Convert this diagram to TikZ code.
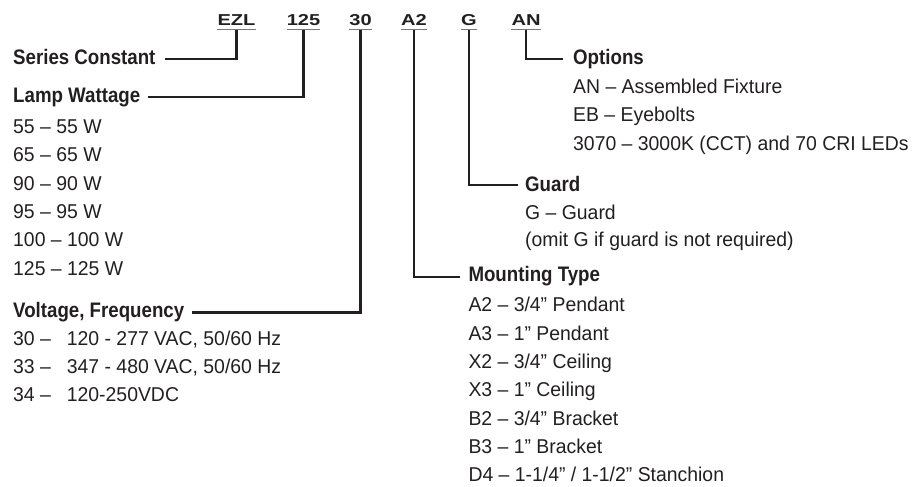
\documentclass[tikz,border=0pt]{standalone}
\usepackage{fontspec}
\setmainfont{Liberation Sans}[FakeStretch=0.97]
\newfontfamily\headfont{Liberation Sans}[FakeStretch=0.89]
\newfontfamily\codefont{Liberation Sans}[FakeStretch=1.27]
\definecolor{ink}{HTML}{231F20}
\definecolor{uline}{HTML}{77787B}
\tikzset{
  codetxt/.style={font=\codefont\bfseries\fontsize{15.8}{18}\selectfont, inner sep=0pt, anchor=base, text=ink},
  headtxt/.style={font=\headfont\bfseries\fontsize{21}{24}\selectfont, inner sep=0pt, anchor=base west, text=ink},
  itemtxt/.style={font=\fontsize{20}{24}\selectfont, inner sep=0pt, anchor=base west, text=ink},
  link/.style={draw=ink, line width=2.2pt},
  ul/.style={draw=uline, line width=1.5pt},
}
\begin{document}
\begin{tikzpicture}[x=1pt,y=-1pt]
\useasboundingbox (0,0) rectangle (914,487);
% codes
\node[codetxt] (ezl) at (236.5,25.3) {EZL};
\node[codetxt] (c125) at (303.5,25.3) {125};
\node[codetxt] (c30) at (360.5,25.3) {30};
\node[codetxt] (ca2) at (414,25.3) {A2};
\node[codetxt] (cg) at (469,25.3) {G};
\node[codetxt] (can) at (526,25.3) {AN};
\foreach \c in {ezl,c125,c30,ca2,cg,can}{
  \draw[ul] ([yshift=-4.3pt]\c.base west) -- ([yshift=-4.3pt]\c.base east);
}
% left headings
\node[headtxt] (sc) at (13,65) {Series Constant};
\node[headtxt] (lw) at (13,102.3) {Lamp Wattage};
\node[headtxt] (vf) at (13,317) {Voltage, Frequency};
% left items
\node[itemtxt] (w1) at (13,133.3) {55 – 55 W};
\node[itemtxt] (w2) at (13,161.7) {65 – 65 W};
\node[itemtxt] (w3) at (13,190) {90 – 90 W};
\node[itemtxt] (w4) at (13,218.3) {95 – 95 W};
\node[itemtxt] (w5) at (13,246.7) {100 – 100 W};
\node[itemtxt] (w6) at (13,275) {125 – 125 W};
\node[itemtxt] (v1) at (13,345) {\makebox[53.7pt][l]{30 –}120 - 277 VAC, 50/60 Hz};
\node[itemtxt] (v2) at (13,373.3) {\makebox[53.7pt][l]{33 –}347 - 480 VAC, 50/60 Hz};
\node[itemtxt] (v3) at (13,401.7) {\makebox[53.7pt][l]{34 –}120-250VDC};
% right headings
\node[headtxt] (op) at (573,65) {Options};
\node[headtxt] (gd) at (525,191.3) {Guard};
\node[headtxt] (mt) at (468.3,281.7) {Mounting Type};
% options items
\node[itemtxt] (o1) at (573,93.3) {AN – Assembled Fixture};
\node[itemtxt] (o2) at (573,121.7) {EB – Eyebolts};
\node[itemtxt] (o3) at (573,150) {3070 – 3000K (CCT) and 70 CRI LEDs};
% guard items
\node[itemtxt] (g1) at (525,219.3) {G – Guard};
\node[itemtxt] (g2) at (525,246) {(omit G if guard is not required)};
% mounting items
\node[itemtxt] (m1) at (468.3,311.7) {A2 – 3/4” Pendant};
\node[itemtxt] (m2) at (468.3,340) {A3 – 1” Pendant};
\node[itemtxt] (m3) at (468.3,368.3) {X2 – 3/4” Ceiling};
\node[itemtxt] (m4) at (468.3,396.7) {X3 – 1” Ceiling};
\node[itemtxt] (m5) at (468.3,425) {B2 – 3/4” Bracket};
\node[itemtxt] (m6) at (468.3,453.3) {B3 – 1” Bracket};
\node[itemtxt] (m7) at (468.3,481.7) {D4 – 1-1/4” / 1-1/2” Stanchion};
% connectors
\draw[link] ([yshift=-4.3pt]ezl.base) |- ([xshift=9pt,yshift=5.7pt]sc.base east);
\draw[link] ([yshift=-4.3pt]c125.base) |- ([xshift=8pt,yshift=5.6pt]lw.base east);
\draw[link] ([yshift=-4.3pt]c30.base) |- ([xshift=8pt,yshift=4.5pt]vf.base east);
\draw[link] ([yshift=-4.3pt]ca2.base) |- ([xshift=-8pt,yshift=4.7pt]mt.base west);
\draw[link] ([yshift=-4.3pt]cg.base) |- ([xshift=-7pt,yshift=6.3pt]gd.base west);
\draw[link] ([yshift=-4.3pt]can.base) |- ([xshift=-10pt,yshift=5.7pt]op.base west);
\end{tikzpicture}
\end{document}
